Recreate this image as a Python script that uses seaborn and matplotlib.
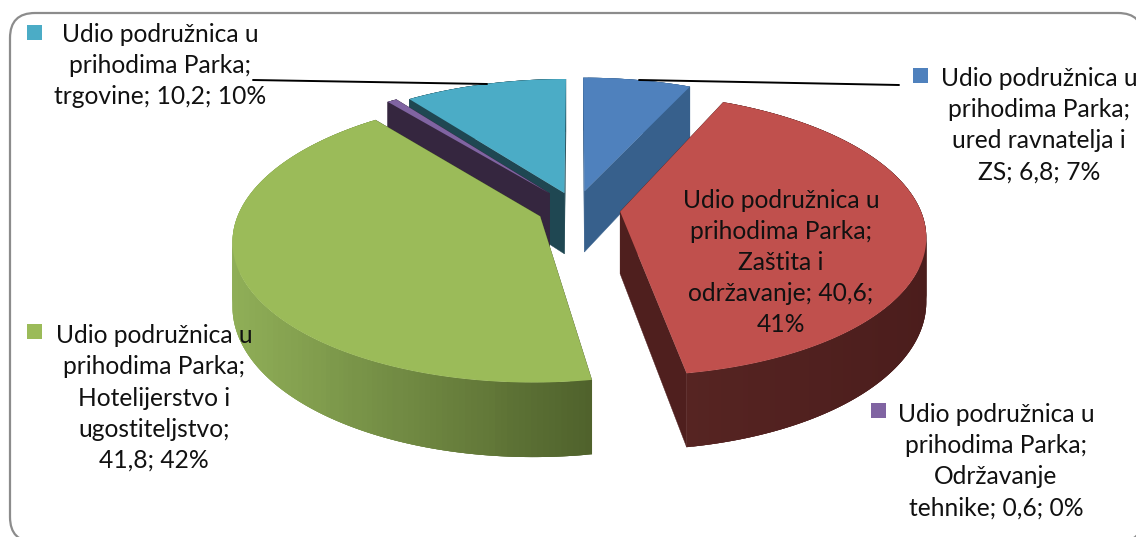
import numpy as np
import seaborn as sns
import matplotlib.pyplot as plt
from matplotlib.patches import FancyBboxPatch, Polygon, Rectangle

#-----------------------------------------------------------------------------------------------------------------------
"""Data"""
branches = ['ured ravnatelja i ZS', 'Zaštita i održavanje', 'Hotelijerstvo i ugostiteljstvo',
            'Održavanje tehnike', 'trgovine']
shares = [6.8, 40.6, 41.8, 0.6, 10.2]
labels = ['Udio podružnica u\nprihodima Parka;\nured ravnatelja i\nZS; 6,8; 7%',
          'Udio podružnica u\nprihodima Parka;\nZaštita i\nodržavanje; 40,6;\n41%',
          'Udio podružnica u\nprihodima Parka;\nHotelijerstvo i\nugostiteljstvo;\n41,8; 42%',
          'Udio podružnica u\nprihodima Parka;\nOdržavanje\ntehnike; 0,6; 0%',
          'Udio podružnica u\nprihodima Parka;\ntrgovine; 10,2; 10%']

#-----------------------------------------------------------------------------------------------------------------------
"""Styles"""
top_colors = ['#4F81BD', '#C0504D', '#9BBB59', '#8064A2', '#4BACC6']
wall_colors = ['#37608C', '#4F1F1E', '#4E602B', '#35263F', '#1F4752']
rim_colors = [('#37608C', '#37608C'), ('#562422', '#4B1D1C'), ('#8FAE57', '#4E602B'),
              ('#35263F', '#35263F'), ('#1F4752', '#1F4752')]
explode = [0.135, 0.148, 0.13, 0.146, 0.125]
draw_order = [0, 4, 3, 2, 1]

#label centre x, centre y, legend key x, key y
label_layout = [(1039, 125, 913, 68), (781, 262.5, None, None), (154, 398, 27, 324),
                (996, 461, 871, 403), (160, 65.5, 27, 25)]

#Pie projection: centre, radii, perspective, depth (pixels)
CX, CY = 576, 209
RX, RY = 300, 137
PERSP = 0.16
DEPTH = 62

sns.set_theme(style='white')
plt.rcParams['font.family'] = ['Lato', 'DejaVu Sans']


def project(theta, r, off=(0.0, 0.0), drop=0.0):
    """theta runs clockwise from 12 o'clock, off is the explode shift on the disc"""
    u = r * np.sin(theta) + off[0]
    v = r * np.cos(theta) + off[1]
    s = 1 / (1 + PERSP * v)
    return np.column_stack([CX + RX * u * s, CY - RY * v * s + drop * s])


#-----------------------------------------------------------------------------------------------------------------------
"""Creating the figure"""
fig = plt.figure(figsize=(11.36, 5.37), dpi=100)
ax = fig.add_axes([0, 0, 1, 1])
ax.set_xlim(0, 1136)
ax.set_ylim(537, 0)
ax.axis('off')

ax.add_patch(FancyBboxPatch((10, 13), 1133, 529, boxstyle='round,pad=0,rounding_size=25',
                            fc='white', ec='#8C8C8C', lw=1.6, zorder=1))

#-----------------------------------------------------------------------------------------------------------------------
"""PLOTTING"""
edges = np.cumsum([0] + shares) / sum(shares) * 2 * np.pi

z = 2
for i in draw_order:
    a0, a1 = edges[i], edges[i + 1]
    mid = (a0 + a1) / 2
    off = (explode[i] * np.sin(mid), explode[i] * np.cos(mid))
    arc = np.linspace(a0, a1, max(int((a1 - a0) * 60), 6))

    #Cut faces
    for a in (a1, a0):
        pts = np.vstack([project(a, 0, off), project(a, 1, off),
                         project(a, 1, off, DEPTH), project(a, 0, off, DEPTH)])
        ax.add_patch(Polygon(pts, fc=wall_colors[i], ec=wall_colors[i], lw=0.3, zorder=z))

    #Outer wall, shaded from left to right, quads overlap the next one so no seams show
    top_arc = project(arc, np.ones_like(arc), off)
    low_arc = project(arc, np.ones_like(arc), off, DEPTH)
    ramp = sns.blend_palette(rim_colors[i], 64)
    xmin, xmax = top_arc[:, 0].min(), top_arc[:, 0].max()
    order = range(len(arc) - 1)
    if top_arc[0, 0] < top_arc[-1, 0]:
        order = reversed(order)
    for k in order:
        frac = (top_arc[k, 0] - xmin) / max(xmax - xmin, 1)
        c = ramp[int(frac * 63)]
        nxt = min(k + 2, len(arc) - 1)
        prv = max(k - 1, 0)
        quad = np.vstack([top_arc[prv:nxt + 1], low_arc[prv:nxt + 1][::-1]])
        ax.add_patch(Polygon(quad, fc=c, ec='none', zorder=z))

    #Top face
    pts = np.vstack([project(a0, 0, off), top_arc])
    ax.add_patch(Polygon(pts, fc=top_colors[i], ec='none', zorder=z + 0.5))
    z += 1

#Leader lines
ax.plot([253, 487], [80, 84], color='black', lw=1.4, zorder=20)
ax.plot([639, 899], [80, 85], color='black', lw=1.4, zorder=20)

#Labels and legend keys
for i, (x, y, kx, ky) in enumerate(label_layout):
    ax.text(x, y, labels[i], ha='center', va='center', fontsize=17.7, linespacing=1.43,
            color='#111111', zorder=21, clip_on=True)
    if kx is not None:
        ax.add_patch(Rectangle((kx, ky), 15, 15, fc=top_colors[i], ec='none', zorder=21))

fig.savefig('out.png', dpi=100)
